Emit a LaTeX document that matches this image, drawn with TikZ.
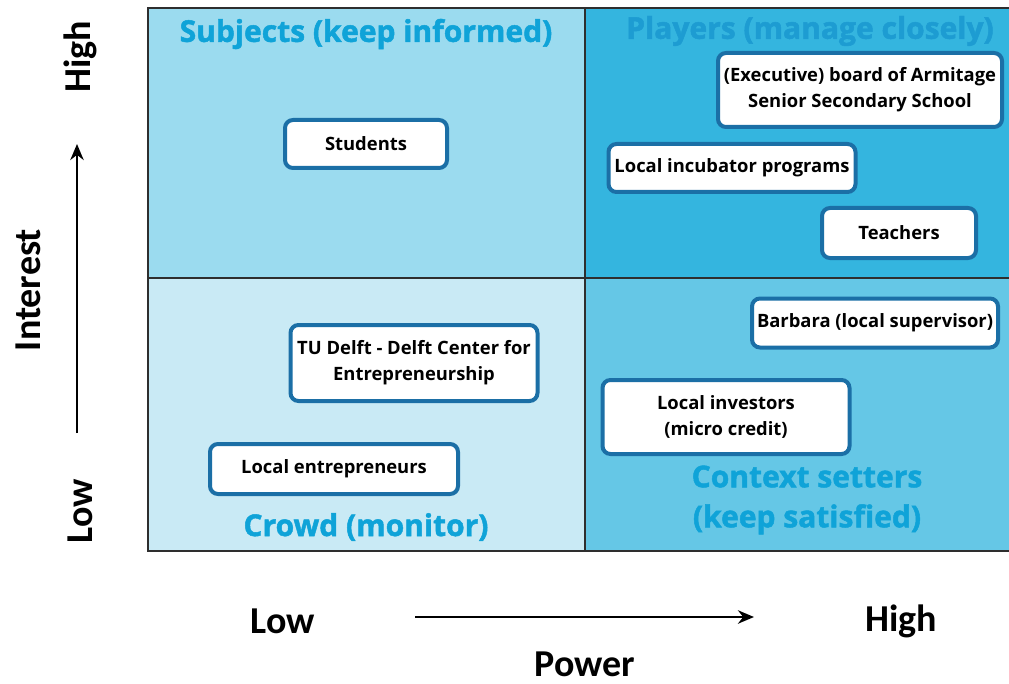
\documentclass[tikz,border=0pt]{standalone}
\usepackage{fontspec}
\setmainfont{Open Sans}
\newfontfamily\titlefont{Open Sans}[BoldFeatures={FakeBold=1.6}]
\newfontfamily\axisfont{Carlito}
\usetikzlibrary{arrows.meta}

\definecolor{subjbg}{HTML}{9BDBEF}
\definecolor{playbg}{HTML}{34B5DF}
\definecolor{crowdbg}{HTML}{C9EAF5}
\definecolor{ctxbg}{HTML}{65C7E6}
\definecolor{titleblue}{HTML}{0FA3D8}
\definecolor{playtitle}{HTML}{1D9CD2}
\definecolor{boxedge}{HTML}{1B6FA6}
\definecolor{gridline}{HTML}{2E2E2E}

\tikzset{
  actor/.style={draw=boxedge, line width=3pt, fill=white, rounded corners=6pt,
    align=center, inner sep=0pt,
    font=\fontsize{13.8}{19.5}\selectfont\bfseries},
  quadtitle/.style={text=titleblue, align=center,
    font=\fontsize{22.5}{30}\selectfont\titlefont\bfseries},
  axislabel/.style={inner sep=0pt, font=\fontsize{28.5}{30}\selectfont\axisfont\bfseries},
  axisarrow/.style={line width=2.2pt, -{Stealth[length=12pt,width=10pt]}},
}

\begin{document}
\begin{tikzpicture}[x=0.75pt, y=-0.75pt]
\useasboundingbox (0,0) rectangle (1009,684);

% quadrant backgrounds
\fill[subjbg]  (148,8)   rectangle (585,278);
\fill[playbg]  (585,8)   rectangle (1009,278);
\fill[crowdbg] (148,278) rectangle (585,551);
\fill[ctxbg]   (585,278) rectangle (1009,551);

% grid lines
\draw[gridline, line width=1.6pt] (1009,8) -- (148,8) -- (148,551) -- (1009,551);
\draw[gridline, line width=1.6pt] (585,8) -- (585,551);
\draw[gridline, line width=1.6pt] (148,278) -- (1009,278);

% quadrant titles
\node[quadtitle] (tsub) at (366,34) {Subjects (keep informed)};
\node[quadtitle, text=playtitle] (tplay) at (810,31) {Players (manage closely)};
\node[quadtitle] (tctx) at (807,500) {Context setters\\(keep satisfied)};
\node[quadtitle] (tcrowd) at (366,527) {Crowd (monitor)};

% stakeholders
\node[actor, minimum width=121.5pt, minimum height=36pt] (students) at (366,144) {Students};
\node[actor, minimum width=213pt, minimum height=55.5pt] (board) at (860,90) {(Executive) board of Armitage\\Senior Secondary School};
\node[actor, minimum width=185.25pt, minimum height=36pt] (incub) at (732,168) {Local incubator programs};
\node[actor, minimum width=115.5pt, minimum height=37.5pt] (teach) at (899,233) {Teachers};
\node[actor, minimum width=184.5pt, minimum height=36.75pt] (barb) at (875,323) {Barbara (local supervisor)};
\node[actor, minimum width=185.25pt, minimum height=55.5pt] (invest) at (726,417) {Local investors\\(micro credit)};
\node[actor, minimum width=185.25pt, minimum height=57pt] (tud) at (414,363) {TU Delft - Delft Center for\\Entrepreneurship};
\node[actor, minimum width=186pt, minimum height=37.5pt] (entre) at (334,469) {Local entrepreneurs};

% interest axis
\node[axislabel, rotate=90] (ihigh) at (80,57) {High};
\node[axislabel, rotate=90] (ilow) at (80,511) {Low};
\node[axislabel, rotate=90] (interest) at (28,290) {Interest};
\coordinate (ia) at (77,433);
\coordinate (ib) at (77,144);
\draw[axisarrow] (ia) -- (ib);

% power axis
\node[axislabel] (plow) at (283,621) {Low};
\node[axislabel] (phigh) at (901,621) {High};
\node[axislabel] (power) at (585,664) {Power};
\coordinate (pa) at (415,617);
\coordinate (pb) at (754,617);
\draw[axisarrow] (pa) -- (pb);
\end{tikzpicture}
\end{document}
